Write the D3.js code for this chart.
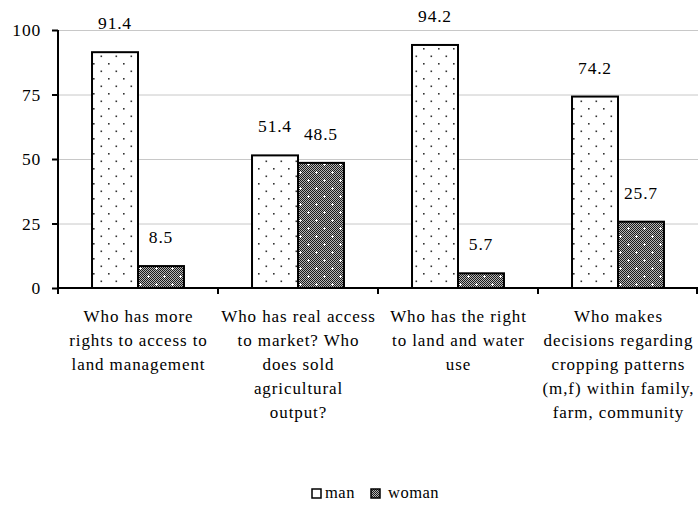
<!DOCTYPE html>
<html><head><meta charset="utf-8">
<script src="https://cdn.jsdelivr.net/npm/d3@7"></script>
</head>
<body style="margin:0;padding:0;background:#fff">
<svg id="chart" width="698" height="508"></svg>
<script>
const categories = [
  ["Who has more","rights to access to","land management"],
  ["Who has real access","to market? Who","does sold","agricultural","output?"],
  ["Who has the right","to land and water","use"],
  ["Who makes","decisions regarding","cropping patterns","(m,f) within family,","farm, community"]
];
const seriesNames = ["man","woman"];
const manValues = [91.4, 51.4, 94.2, 74.2];
const womanValues = [8.5, 48.5, 5.7, 25.7];
const yTicks = [0,25,50,75,100];

const FONT = "Liberation Serif";
const svg = d3.select("#chart");
const defs = svg.append("defs");
// man: white with sparse dots
const pm = defs.append("pattern").attr("id","pMan").attr("patternUnits","userSpaceOnUse")
  .attr("width",15).attr("height",15);
pm.append("rect").attr("width",15).attr("height",15).attr("fill","#fff");
pm.append("rect").attr("x",3).attr("y",3).attr("width",1.6).attr("height",1.6).attr("fill","#333");
pm.append("rect").attr("x",10.5).attr("y",10.5).attr("width",1.6).attr("height",1.6).attr("fill","#333");
// woman: checker with white pluses
const pc = defs.append("pattern").attr("id","pCheck").attr("patternUnits","userSpaceOnUse")
  .attr("width",2).attr("height",2);
pc.append("rect").attr("width",2).attr("height",2).attr("fill","#b5b5b5");
pc.append("rect").attr("width",1).attr("height",1).attr("fill","#1a1a1a");
pc.append("rect").attr("x",1).attr("y",1).attr("width",1).attr("height",1).attr("fill","#1a1a1a");
const pw = defs.append("pattern").attr("id","pWoman").attr("patternUnits","userSpaceOnUse")
  .attr("width",16).attr("height",16);
pw.append("rect").attr("width",16).attr("height",16).attr("fill","url(#pCheck)");
[[4,4],[12,12]].forEach(([cx,cy])=>{
  pw.append("rect").attr("x",cx-1).attr("y",cy).attr("width",3).attr("height",1).attr("fill","#fff");
  pw.append("rect").attr("x",cx).attr("y",cy-1).attr("width",1).attr("height",3).attr("fill","#fff");
});
const fills = {man:"url(#pMan)", woman:"url(#pWoman)"};

const x0 = 58, x1 = 698, yTop = 30, yBot = 288;
const catKeys = categories.map((c,i)=>i);
const x = d3.scaleBand().domain(catKeys).range([x0,x1]).paddingInner(0).paddingOuter(0);
const xs = d3.scaleBand().domain(seriesNames).range([0,x.bandwidth()]).paddingInner(0).paddingOuter(0.74);
const y = d3.scaleLinear().domain([0,100]).range([yBot,yTop]);

svg.append("g").selectAll("line").data(yTicks.filter(t=>t>0)).join("line")
  .attr("x1",x0).attr("x2",x1).attr("y1",d=>y(d)+0.5).attr("y2",d=>y(d)+0.5)
  .attr("stroke","#c8c8c8").attr("stroke-width",1);

const data = catKeys.map(i=>({i, man:manValues[i], woman:womanValues[i]}));
const g = svg.append("g");
data.forEach(d=>{
  seriesNames.forEach(s=>{
    const bx = x(d.i)+xs(s);
    g.append("rect").attr("x",bx).attr("y",y(d[s]))
      .attr("width",xs.bandwidth()).attr("height",yBot-y(d[s]))
      .attr("fill",fills[s]).attr("stroke","#000").attr("stroke-width",2);
    g.append("text").attr("x",bx+xs.bandwidth()/2).attr("y",y(d[s])-23)
      .attr("text-anchor","middle")
      .style("font-family",FONT).style("font-size","17.5px").style("letter-spacing","0.8px")
      .text(d[s].toFixed(1));
  });
});

const yAxis = d3.axisLeft(y).tickValues(yTicks).tickSize(6).tickPadding(11);
const ya = svg.append("g").attr("transform",`translate(${x0},0)`).call(yAxis);
ya.attr("font-family",null).attr("font-size",null);
ya.select(".domain").attr("stroke","#000").attr("stroke-width",2).attr("d",`M0,${yTop}V${yBot+6}`);
ya.selectAll(".tick line").attr("stroke","#000").attr("stroke-width",2);
ya.selectAll(".tick text").style("font-family",FONT).style("font-size","17.5px")
  .style("letter-spacing","0.8px").attr("fill","#000");

svg.append("line").attr("x1",x0).attr("x2",x1).attr("y1",yBot).attr("y2",yBot)
  .attr("stroke","#000").attr("stroke-width",2);
const bounds = catKeys.map(i=>x(i)).concat([x1]);
svg.append("g").selectAll("line").data(bounds.slice(1)).join("line")
  .attr("x1",d=>d===x1?d-1:d).attr("x2",d=>d===x1?d-1:d).attr("y1",yBot).attr("y2",yBot+6)
  .attr("stroke","#000").attr("stroke-width",2);

const cl = svg.append("g");
categories.forEach((lines,i)=>{
  const t = cl.append("text").attr("text-anchor","middle")
    .style("font-family",FONT).style("font-size","17px").style("letter-spacing","0.9px");
  lines.forEach((ln,k)=>{
    t.append("tspan").attr("x",x(i)+x.bandwidth()/2+0.5).attr("y",322+k*24).text(ln);
  });
});

const leg = svg.append("g");
const legItems = [{s:"man",x:312,tx:325},{s:"woman",x:371,tx:388}];
legItems.forEach(it=>{
  leg.append("rect").attr("x",it.x).attr("y",489).attr("width",9).attr("height",9)
    .attr("fill",fills[it.s]).attr("stroke","#000").attr("stroke-width",1.5);
  leg.append("text").attr("x",it.tx).attr("y",498)
    .style("font-family",FONT).style("font-size","16.5px").style("letter-spacing","0.5px").text(it.s);
});
</script>
</body></html>
